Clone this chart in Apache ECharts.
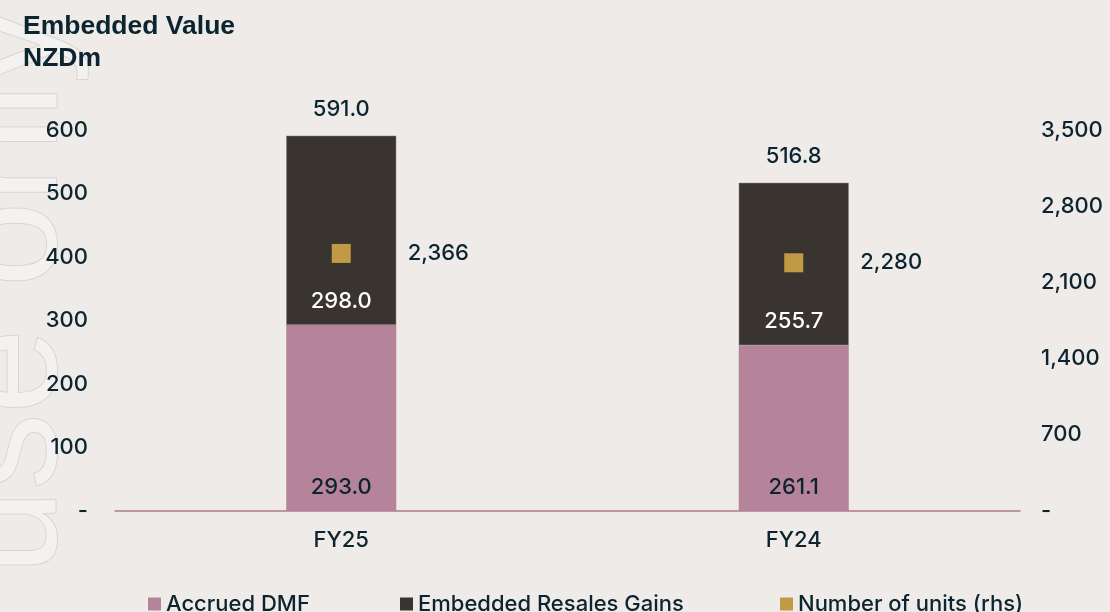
<!DOCTYPE html>
<html>
<head>
<meta charset="utf-8">
<script src="https://cdn.jsdelivr.net/npm/echarts@6/dist/echarts.min.js"></script>
<style>
html,body{margin:0;padding:0;background:#efebe8;}
#chart{width:1110px;height:612px;}
</style>
</head>
<body>
<div id="chart"></div>
<script>
const categories = ['FY25', 'FY24'];
const accruedDMF = [293.0, 261.1];
const resalesGains = [298.0, 255.7];
const totals = [591.0, 516.8];
const units = [2366, 2280];
const leftTicks = [0, 100, 200, 300, 400, 500, 600];
const rightTicks = [0, 700, 1400, 2100, 2800, 3500];
const legendNames = ['Accrued DMF', 'Embedded Resales Gains', 'Number of units (rhs)'];

const textColor = '#0c2430';
const font = 'Inter';
const fw = 500;

function fmtComma(v) {
  return v.toLocaleString('en-US');
}

const legendLefts = [148, 400, 780];
const legends = legendNames.map((n, i) => ({
  data: [n],
  left: legendLefts[i],
  top: 593,
  padding: 0,
  itemWidth: 13,
  itemHeight: 13,
  itemGap: 5,
  icon: 'rect',
  itemStyle: { borderWidth: 0 },
  textStyle: { fontFamily: font, fontWeight: fw, fontSize: 22, color: textColor, padding: [0, 0, 0, 0] }
}));

const outLabel = {
  fontFamily: font, fontWeight: fw, fontSize: 22, color: textColor,
  textBorderWidth: 0, opacity: 1
};

const chart = echarts.init(document.getElementById('chart'));
chart.setOption({
  backgroundColor: '#efebe8',
  animation: false,
  graphic: [{
    type: 'text',
    z: -10,
    x: 90,
    y: 8,
    rotation: Math.PI / 2,
    silent: true,
    style: {
      text: 'For personal use only',
      font: '300 152px "Liberation Sans"',
      fill: '#f4f2f0',
      stroke: '#d9d5d2',
      lineWidth: 2,
      textAlign: 'right',
      textVerticalAlign: 'bottom'
    }
  }],
  title: {
    text: 'Embedded Value\nNZDm',
    left: 23,
    top: 11,
    padding: 0,
    textStyle: {
      fontFamily: '"Liberation Sans", Arial, sans-serif',
      fontWeight: 'bold',
      fontSize: 26.5,
      lineHeight: 32,
      color: textColor
    }
  },
  legend: legends,
  grid: { left: 115, right: 90, top: 130, bottom: 101 },
  xAxis: {
    type: 'category',
    data: categories,
    axisTick: { show: false },
    axisLine: { lineStyle: { color: '#b07a8c', width: 1.5 } },
    axisLabel: { fontFamily: font, fontWeight: fw, fontSize: 22, color: textColor, margin: 18 }
  },
  yAxis: [{
    type: 'value',
    min: 0, max: 600, interval: 100,
    splitLine: { show: false },
    axisLine: { show: false },
    axisTick: { show: false },
    axisLabel: {
      fontFamily: font, fontWeight: fw, fontSize: 22, color: textColor, margin: 27,
      formatter: v => leftTicks.includes(v) ? (v === 0 ? '-' : String(v)) : ''
    }
  }, {
    type: 'value',
    min: 0, max: 3500, interval: 700,
    splitLine: { show: false },
    axisLine: { show: false },
    axisTick: { show: false },
    axisLabel: {
      fontFamily: font, fontWeight: fw, fontSize: 22, color: textColor, margin: 21,
      formatter: v => rightTicks.includes(v) ? (v === 0 ? '-' : fmtComma(v)) : ''
    }
  }],
  series: [{
    name: 'Accrued DMF',
    type: 'bar',
    stack: 'ev',
    barWidth: 110,
    data: accruedDMF,
    itemStyle: { color: '#b5849a' },
    label: Object.assign({
      show: true, position: 'insideBottom', distance: 13,
      formatter: p => p.value.toFixed(1)
    }, outLabel)
  }, {
    name: 'Embedded Resales Gains',
    type: 'bar',
    stack: 'ev',
    barWidth: 110,
    data: resalesGains,
    itemStyle: { color: '#39342f', borderColor: '#8a8480', borderWidth: 0.5 },
    label: Object.assign({}, outLabel, {
      show: true, position: 'insideBottom', distance: 13, color: '#ffffff',
      formatter: p => p.value.toFixed(1)
    })
  }, {
    name: 'Total',
    type: 'scatter',
    data: totals,
    symbolSize: 0,
    silent: true,
    label: Object.assign({
      show: true, position: 'top', distance: 15,
      formatter: p => p.value.toFixed(1)
    }, outLabel)
  }, {
    name: 'Number of units (rhs)',
    type: 'scatter',
    yAxisIndex: 1,
    data: units,
    symbol: 'rect',
    symbolSize: 19,
    z: 5,
    itemStyle: { color: '#c09a45', opacity: 1 },
    label: Object.assign({
      show: true, position: 'right', distance: 57,
      formatter: p => fmtComma(p.value)
    }, outLabel)
  }]
});
</script>
</body>
</html>
